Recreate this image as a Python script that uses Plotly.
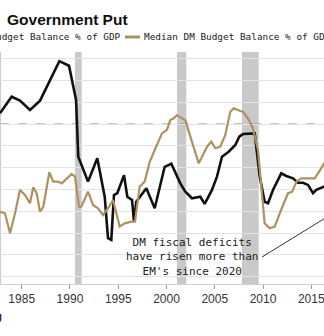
import plotly.graph_objects as go

# ---- data ----
em_years = [1982.75, 1983.96, 1984.82, 1985.86, 1986.90, 1987.93, 1988.90, 1989.90, 1990.63, 1990.86,
            1991.87, 1992.83, 1993.60, 1993.94, 1994.28, 1994.56, 1994.90, 1995.60, 1995.94, 1996.43,
            1996.63, 1996.87, 1997.91, 1998.78, 1999.81, 2000.50, 2001.43, 2001.95, 2002.64, 2003.50,
            2003.96, 2004.71, 2005.23, 2005.75, 2006.44, 2007.13, 2007.54, 2007.93, 2008.96, 2009.14,
            2009.66, 2010.17, 2010.52, 2011.03, 2011.89, 2012.41, 2013.11, 2013.62, 2014.14, 2014.66,
            2015.18, 2015.52, 2016.40]
em_values = [0.49, 1.25, 1.07, 0.64, 1.07, 2.01, 2.88, 2.67, 1.10, -1.50,
             -2.64, -1.57, -3.33, -5.23, -5.31, -3.25, -3.17, -2.34, -3.33, -3.48,
             -4.47, -3.56, -2.94, -3.86, -1.96, -1.82, -2.72, -3.10, -3.40, -3.33,
             -3.66, -3.02, -2.41, -1.50, -1.27, -0.96, -0.58, -0.46, -0.46, -0.43,
             -2.41, -3.56, -3.63, -3.02, -2.26, -2.38, -2.49, -2.69, -2.69, -2.79,
             -3.17, -3.02, -2.85]

dm_years = [1982.75, 1983.27, 1983.79, 1984.31, 1984.82, 1985.34, 1985.86, 1986.20, 1986.55, 1986.90,
            1987.24, 1987.86, 1988.27, 1988.79, 1989.14, 1989.66, 1990.18, 1990.52, 1990.94, 1991.17,
            1991.87, 1992.39, 1992.90, 1993.42, 1993.94, 1994.46, 1995.15, 1995.67, 1996.35, 1996.74,
            1997.22, 1997.74, 1998.26, 1998.78, 1999.53, 2000.05, 2000.39, 2000.75, 2001.09, 2001.61,
            2001.95, 2002.47, 2002.98, 2003.34, 2003.68, 2004.20, 2004.64, 2005.06, 2005.57, 2006.09,
            2006.61, 2006.96, 2007.65, 2007.93, 2008.44, 2008.96, 2009.48, 2009.82, 2010.17, 2010.69,
            2011.21, 2011.73, 2012.25, 2012.59, 2013.03, 2013.45, 2013.97, 2014.66, 2015.35, 2015.70,
            2016.40]
dm_values = [-4.02, -4.09, -5.00, -4.09, -3.02, -3.25, -3.63, -2.90, -3.17, -4.02,
             -3.79, -2.21, -2.64, -2.64, -2.72, -2.49, -2.29, -2.41, -3.79, -3.79,
             -3.10, -3.71, -3.86, -4.17, -3.86, -3.48, -4.70, -4.55, -4.47, -4.47,
             -2.87, -2.64, -1.73, -1.19, -0.43, -0.27, 0.18, 0.26, 0.41, 0.26,
             0.18, -0.58, -1.34, -1.80, -1.50, -1.04, -0.81, -1.11, -1.04, -0.50,
             0.56, 0.72, 0.60, 0.56, 0.26, -0.20, -1.19, -3.02, -4.55, -4.78,
             -4.70, -4.09, -3.56, -3.17, -3.10, -2.64, -2.49, -2.49, -2.49, -2.26,
             -1.75]

recession_starts = [1981.5, 1990.52, 2001.09, 2007.82]
recession_ends = [1982.85, 1991.22, 2002.05, 2009.55]

tick_years = [1985, 1990, 1995, 2000, 2005, 2010, 2015]
tick_labels = ["1985", "1990", "1995", "2000", "2005", "2010", "2015"]

# ---- layout helpers (pixel -> paper) ----
W, H = 324, 336
M_T, M_B = 52, 52
PLOT_H = H - M_T - M_B


def px(x):
    return x / W


def py(y):
    return (H - M_B - y) / PLOT_H


BLACK = "#111111"
TAN = "#AE9160"
MONO = "DejaVu Sans Mono"

fig = go.Figure()
fig.add_trace(go.Scatter(x=em_years, y=em_values, mode="lines",
                         line=dict(color=BLACK, width=2.6), showlegend=False,
                         name="Median EM Budget Balance % of GDP"))
fig.add_trace(go.Scatter(x=dm_years, y=dm_values, mode="lines",
                         line=dict(color=TAN, width=2.2), showlegend=False,
                         name="Median DM Budget Balance % of GDP"))

shapes = []
for s, e in zip(recession_starts, recession_ends):
    shapes.append(dict(type="rect", xref="x", yref="paper", x0=s, x1=e, y0=0, y1=1,
                       fillcolor="#c9c9c9", line=dict(width=0), layer="below"))
# zero line dashed
shapes.append(dict(type="line", xref="paper", yref="y", x0=0, x1=1, y0=0, y1=0,
                   line=dict(color="#8a8a8a", width=1, dash="dash"), layer="below"))
# legend markers
shapes.append(dict(type="line", xref="paper", yref="paper", x0=px(125), x1=px(140),
                   y0=py(37), y1=py(37), line=dict(color=TAN, width=3)))
# annotation leader line
shapes.append(dict(type="line", xref="paper", yref="paper", x0=px(262), x1=px(340),
                   y0=py(257), y1=py(209), line=dict(color="#333333", width=1)))

annotations = [
    dict(text="<b>Government Put</b>", xref="paper", yref="paper", x=px(5), y=py(19),
         xanchor="left", yanchor="middle", showarrow=False,
         font=dict(family="Liberation Sans", size=15.5, color="#111111")),
    dict(text="Median EM Budget Balance % of GDP", xref="paper", yref="paper", x=px(123), y=py(37),
         xanchor="right", yanchor="middle", showarrow=False,
         font=dict(family=MONO, size=9.4, color="#222222")),
    dict(text="Median DM Budget Balance % of GDP", xref="paper", yref="paper", x=px(142), y=py(37),
         xanchor="left", yanchor="middle", showarrow=False,
         font=dict(family=MONO, size=9.4, color="#222222")),
    dict(text="DM fiscal deficits<br>have risen more than<br>EM's since 2020", xref="paper", yref="paper",
         x=px(192), y=py(256.5), xanchor="center", yanchor="middle", align="center", showarrow=False,
         font=dict(family=MONO, size=11, color="#222222")),
    dict(text="<b>Source: Bloomberg</b>", xref="paper", yref="paper", x=px(4), y=py(316),
         xanchor="right", yanchor="middle", showarrow=False,
         font=dict(family="Liberation Sans", size=10, color="#222222")),
]

fig.update_layout(
    width=W, height=H,
    margin=dict(l=0, r=0, t=M_T, b=M_B, pad=0),
    paper_bgcolor="white", plot_bgcolor="white",
    shapes=shapes, annotations=annotations, showlegend=False,
    xaxis=dict(range=[1982.752, 2016.317], tickvals=tick_years, ticktext=tick_labels,
               showgrid=False, zeroline=False, ticks="outside", ticklen=4, tickcolor="#999999",
               showline=True, linecolor="#cfcfcf", linewidth=1, ticklabeloverflow="allow",
               tickfont=dict(family="Liberation Sans", size=12, color="#333333")),
    yaxis=dict(range=[-7.33, 3.30], dtick=1, showgrid=True, gridcolor="#e3e3e3", gridwidth=1,
               zeroline=False, showticklabels=False, ticks=""),
)

fig.write_html("out.html")
